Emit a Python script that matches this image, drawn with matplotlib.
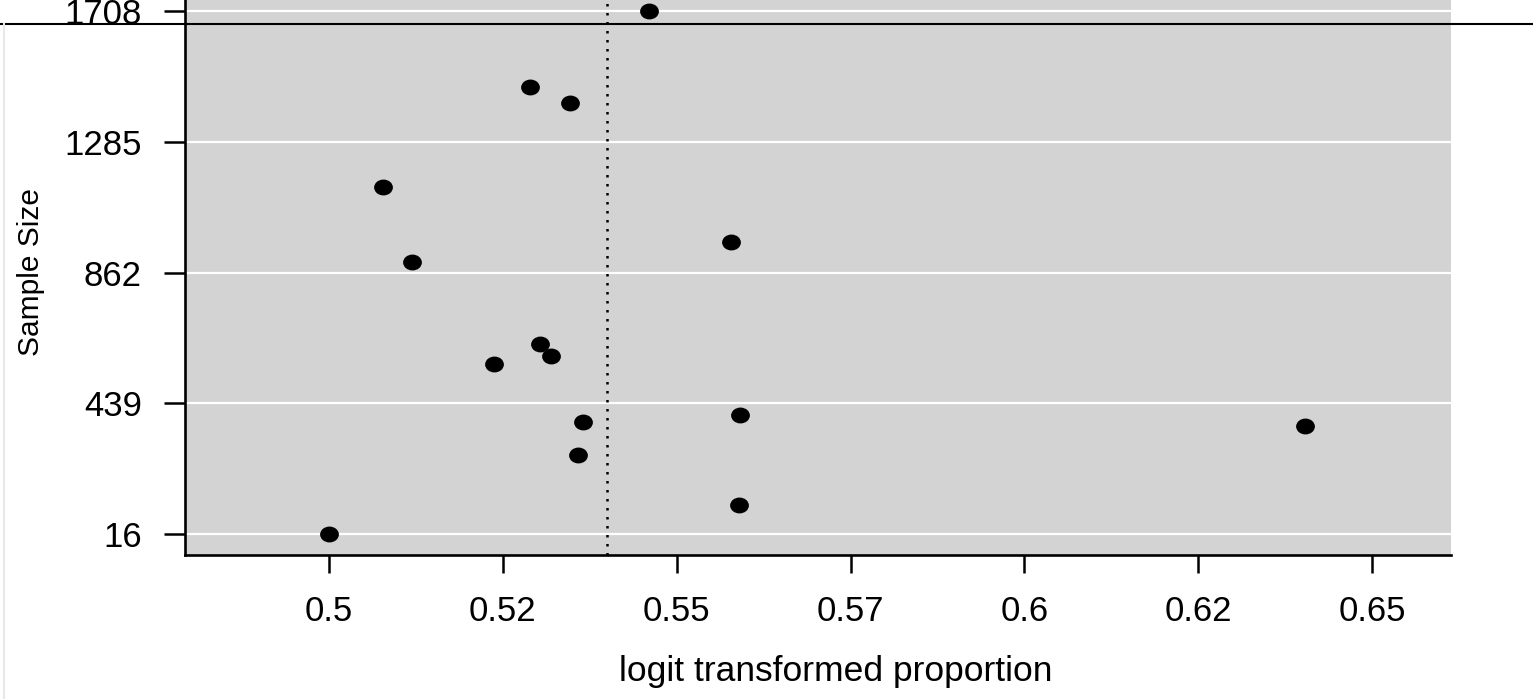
import matplotlib
matplotlib.use("Agg")
import matplotlib.pyplot as plt
from matplotlib.path import Path
from matplotlib.lines import Line2D

# ==============================
# Data
# ==============================

proportion = [0.5460, 0.5289, 0.5347, 0.5078, 0.5578, 0.5119, 0.5303, 0.5319,
              0.5237, 0.5365, 0.5591, 0.6404, 0.5358, 0.5590, 0.5000]
sample_size = [1708, 1462, 1410, 1139, 961, 896, 631, 592,
               566, 378, 401, 365, 272, 110, 16]
pooled = 0.540

x_ticks = [0.5, 0.525, 0.55, 0.575, 0.6, 0.625, 0.65]
x_labels = ["0.5", "0.52", "0.55", "0.57", "0.6", "0.62", "0.65"]
y_ticks = [16, 439, 862, 1285, 1708]

# ==============================
# Plot
# ==============================

plt.rcParams["font.family"] = ["Liberation Sans", "DejaVu Sans"]

fig = plt.figure(figsize=(15.33, 6.99), dpi=100)
ax = fig.add_axes([185 / 1533, 1 - 555 / 699, 1266 / 1533, 565 / 699])
ax.set_facecolor("#d3d3d3")

ax.set_xlim(0.47929, 0.66136)
ax.set_ylim(-51.9, 1775.9)

for yt in y_ticks:
    ax.axhline(yt, color="white", lw=1.6, zorder=1)
ax.axvline(pooled, color="black", lw=1.8, ls=(0, (1.0, 2.6)), zorder=2)

# slightly wide dot, like the original
circ = Path.unit_circle()
oval = Path(circ.vertices * [1.2, 1.0], circ.codes)
ax.plot(proportion, sample_size, ls="none", marker=oval, markersize=12.5,
        color="black", zorder=3)

for side in ["top", "right"]:
    ax.spines[side].set_visible(False)
for side in ["left", "bottom"]:
    ax.spines[side].set_linewidth(1.9)

ax.set_xticks(x_ticks)
ax.set_xticklabels(x_labels)
ax.set_yticks(y_ticks)
ax.set_yticklabels([str(v) for v in y_ticks])
ax.tick_params(axis="x", length=13, width=1.8, pad=15.5, labelsize=25)
ax.tick_params(axis="y", length=15, width=1.8, pad=16, labelsize=25)

ax.set_xlabel("logit transformed proportion", fontsize=25.5)
ax.xaxis.label.set_va("baseline")
ax.xaxis.set_label_coords((836 - 185) / 1266, (555 - 681) / 565)
ax.set_ylabel("Sample Size", fontsize=21.5)
ax.yaxis.label.set_va("center")
ax.yaxis.set_label_coords((31 - 185) / 1266, (555 - 272) / 565)

# stray lines from the source page
fig.add_artist(Line2D([0, 1], [1 - 24 / 699] * 2, transform=fig.transFigure,
                      color="black", lw=1.5))
fig.add_artist(Line2D([4 / 1533] * 2, [0, 1 - 24 / 699], transform=fig.transFigure,
                      color="#e8e8e8", lw=1.5))

fig.savefig("out.png", dpi=100)
